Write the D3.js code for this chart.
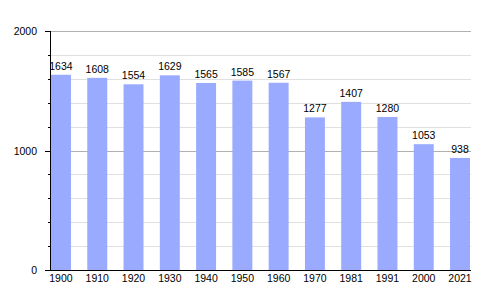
<!DOCTYPE html>
<html><head><meta charset="utf-8">
<script src="https://cdn.jsdelivr.net/npm/d3@7"></script>
<style>body{margin:0;background:#fff}svg{display:block}text{font-family:"Liberation Sans",Arial,sans-serif;fill:#000}</style>
</head><body><svg id="c" width="500" height="300"></svg>
<script>
const years = ["1900","1910","1920","1930","1940","1950","1960","1970","1981","1991","2000","2021"];
const population = [1634,1608,1554,1629,1565,1585,1567,1277,1407,1280,1053,938];
const majorTicks = [0,1000,2000];
const minorTicks = [200,400,600,800,1200,1400,1600,1800];

const svg = d3.select("#c");
const x0 = 50, x1 = 471, yTop = 31, yBot = 270;
const fs = 10.5;
const x = d3.scaleBand().domain(years).range([51,470]).paddingInner(0.45).paddingOuter(0);
const y = d3.scaleLinear().domain([0,2000]).range([yBot,yTop]);

// gridlines
svg.append("g").selectAll("line").data(minorTicks).join("line")
  .attr("x1",x0).attr("x2",x1).attr("y1",d=>Math.round(y(d))+0.5).attr("y2",d=>Math.round(y(d))+0.5)
  .attr("stroke","#e0e0e0").attr("stroke-width",1);
svg.append("g").selectAll("line").data(majorTicks.filter(d=>d>0)).join("line")
  .attr("x1",x0).attr("x2",x1).attr("y1",d=>Math.round(y(d))+0.5).attr("y2",d=>Math.round(y(d))+0.5)
  .attr("stroke","#b0b0b0").attr("stroke-width",1);

// bars
svg.append("g").selectAll("rect").data(years).join("rect")
  .attr("x",d=>x(d)).attr("width",x.bandwidth())
  .attr("y",(d,i)=>y(population[i])).attr("height",(d,i)=>yBot-y(population[i]))
  .attr("fill","#99aaff");

// value labels
svg.append("g").selectAll("text").data(years).join("text")
  .attr("x",d=>x(d)+x.bandwidth()/2).attr("y",(d,i)=>y(population[i])-5)
  .attr("text-anchor","middle").attr("font-size",fs).text((d,i)=>population[i]);

// axes lines
svg.append("line").attr("x1",x0+0.5).attr("x2",x0+0.5).attr("y1",yTop).attr("y2",yBot).attr("stroke","#000");
svg.append("line").attr("x1",x0).attr("x2",x1).attr("y1",yBot+0.5).attr("y2",yBot+0.5).attr("stroke","#000");

// ticks
svg.append("g").selectAll("line").data(majorTicks).join("line")
  .attr("x1",45).attr("x2",x0).attr("y1",d=>Math.round(y(d))+0.5).attr("y2",d=>Math.round(y(d))+0.5).attr("stroke","#000");
svg.append("g").selectAll("line").data(minorTicks).join("line")
  .attr("x1",48).attr("x2",x0).attr("y1",d=>Math.round(y(d))+0.5).attr("y2",d=>Math.round(y(d))+0.5).attr("stroke","#000");

// y labels
svg.append("g").selectAll("text").data(majorTicks).join("text")
  .attr("x",37).attr("y",d=>y(d)+4).attr("text-anchor","end").attr("font-size",fs).text(d=>d);

// x labels
svg.append("g").selectAll("text").data(years).join("text")
  .attr("x",d=>x(d)+x.bandwidth()/2).attr("y",282)
  .attr("text-anchor","middle").attr("font-size",fs).text(d=>d);
</script></body></html>
